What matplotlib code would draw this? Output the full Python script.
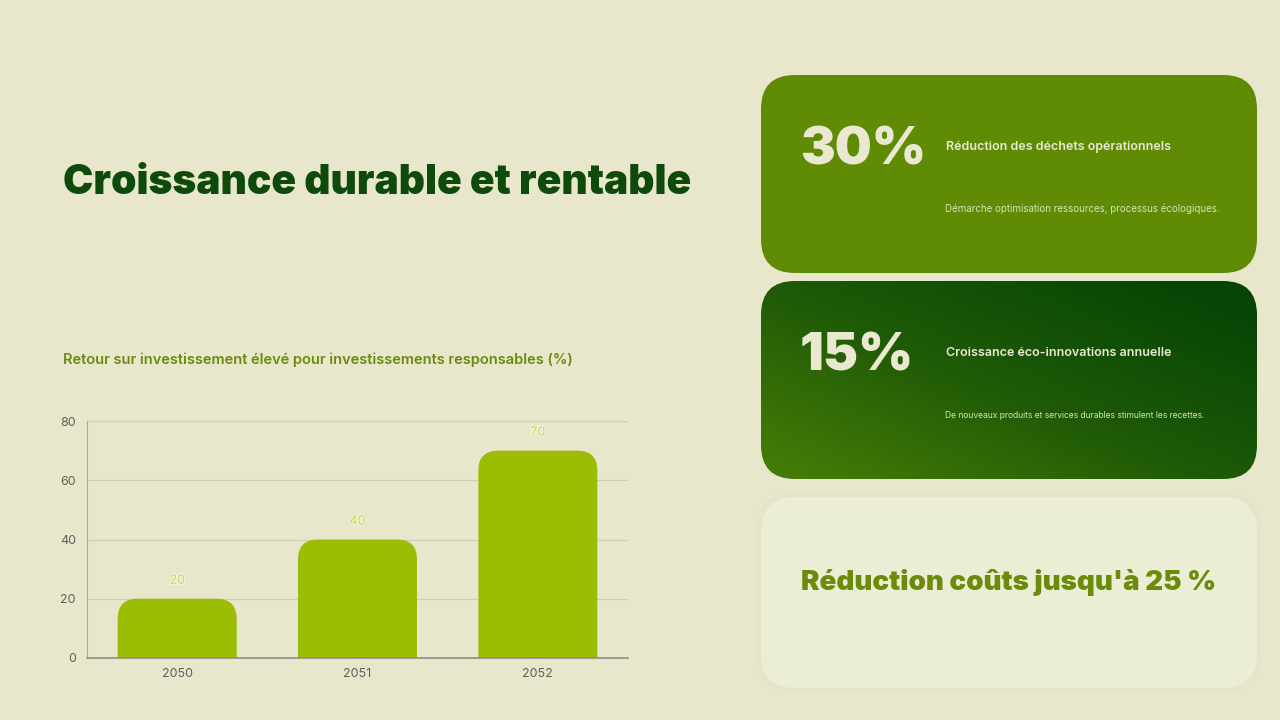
import numpy as np
import matplotlib
matplotlib.use("Agg")
import matplotlib.pyplot as plt
import matplotlib.patheffects as pe
from matplotlib.patches import FancyBboxPatch
from matplotlib.colors import LinearSegmentedColormap

# ---------------- data ----------------
years = ["2050", "2051", "2052"]
roi_values = [20, 40, 70]
y_ticks = [0, 20, 40, 60, 80]

title = "Croissance durable et rentable"
chart_title = "Retour sur investissement élevé pour investissements responsables (%)"
card_values = ["30%", "15%"]
card_heads = ["Réduction des déchets opérationnels", "Croissance éco-innovations annuelle"]
card_texts = ["Démarche optimisation ressources, processus écologiques.",
              "De nouveaux produits et services durables stimulent les recettes."]
highlight = "Réduction coûts jusqu'à 25 %"

# ---------------- style ----------------
BG = "#E8E6CB"
FONT = ["Inter", "DejaVu Sans"]
W, H = 1280, 720

fig = plt.figure(figsize=(W / 100, H / 100), dpi=100, facecolor=BG)

# overlay axes in pixel coordinates
ov = fig.add_axes([0, 0, 1, 1])
ov.set_xlim(0, W)
ov.set_ylim(H, 0)
ov.axis("off")
ov.set_facecolor("none")

ov.text(63, 183, title, fontsize=29.3, fontweight="black", color="#0E4A0A",
        family=FONT, va="center", ha="left")
ov.text(63, 360, chart_title, fontsize=10.5, fontweight="semibold", color="#6A8A0E",
        family=FONT, va="center", ha="left")

# card 1
c1 = FancyBboxPatch((761, 75), 496, 198, boxstyle="round,pad=0,rounding_size=34",
                    fc="#5F8B05", ec="none", zorder=1)
ov.add_patch(c1)

# card 2 with gradient
c2 = FancyBboxPatch((761, 281), 496, 198, boxstyle="round,pad=0,rounding_size=34",
                    fc="none", ec="none", zorder=1)
ov.add_patch(c2)
gx, gy = np.meshgrid(np.linspace(0, 1, 200), np.linspace(0, 1, 100))
g = np.clip(((1 - gx) * 0.6 + gy * 0.55) - 0.1, 0, 1)
cmap = LinearSegmentedColormap.from_list("g", ["#074505", "#1E5A07", "#447B06"])
im = ov.imshow(g, extent=(761, 1257, 479, 281), cmap=cmap, aspect="auto",
               zorder=1, interpolation="bicubic")
im.set_clip_path(c2)
ov.set_xlim(0, W)
ov.set_ylim(H, 0)

# card 3 with soft shadow
for i, a in enumerate([0.04, 0.04, 0.04]):
    sh = FancyBboxPatch((761 - 2 - i * 2, 497 - 2 - i * 2), 496 + 4 + i * 4, 191 + 4 + i * 4,
                        boxstyle="round,pad=0,rounding_size=%d" % (36 + i * 2),
                        fc="#D8D6BC", ec="none", alpha=a, zorder=1)
    ov.add_patch(sh)
c3 = FancyBboxPatch((761, 497), 496, 191, boxstyle="round,pad=0,rounding_size=34",
                    fc="#EBEED5", ec="none", zorder=1)
ov.add_patch(c3)

LIGHT = "#EAE8D1"
val_sizes = [37.5, 38]
txt_sizes = [7.0, 6.1]
for i, (val, head, txt) in enumerate(zip(card_values, card_heads, card_texts)):
    y0 = 75 + i * 206
    ov.text(800, y0 + 76, val, fontsize=val_sizes[i], fontweight="black", color=LIGHT,
            family=FONT, va="center", ha="left", zorder=3)
    ov.text(946, y0 + 72, head, fontsize=9, fontweight="semibold", color=LIGHT,
            family=FONT, va="center", ha="left", zorder=3)
    ov.text(945, y0 + 134, txt, fontsize=txt_sizes[i], color="#D8E2B8",
            family=FONT, va="center", ha="left", zorder=3)

ov.text(1009, 583, highlight, fontsize=20, fontweight="black", color="#6A8C0A",
        family=FONT, va="center", ha="center", zorder=3)

# ---------------- bar chart ----------------
left_px, right_px, top_px, bot_px = 87, 628, 421, 658
ax = fig.add_axes([left_px / W, 1 - bot_px / H, (right_px - left_px) / W, (bot_px - top_px) / H])
ax.set_facecolor("none")
x = np.arange(len(years))
ax.set_xlim(-0.5, len(years) - 0.5)
ax.set_ylim(0, 80)

bars = ax.bar(x, roi_values, width=0.66, color="#9BBE05")
ax_w_px = right_px - left_px
ax_h_px = bot_px - top_px
xu_per_px = (len(years)) / ax_w_px
yu_per_px = 80 / ax_h_px
r_px = 20
for b in bars:
    b.set_visible(False)
    bx, bw, bh = b.get_x(), b.get_width(), b.get_height()
    p = FancyBboxPatch((bx, -10), bw, bh + 10,
                       boxstyle="round,pad=0,rounding_size=%f" % (r_px * xu_per_px),
                       mutation_aspect=yu_per_px / xu_per_px,
                       fc="#9BBE05", ec="none", zorder=2)
    p.set_clip_path(ax.patch)
    ax.add_patch(p)
    t = ax.text(bx + bw / 2, bh + 18 * yu_per_px, str(bh if bh % 1 else int(bh)),
                ha="center", va="center", fontsize=9, color="#C2DA4E", family=FONT, zorder=3)
    t.set_path_effects([pe.withStroke(linewidth=1.6, foreground="#F4F4E2")])

ax.set_yticks(y_ticks)
ax.set_xticks(x, years)
ax.grid(axis="y", color="#CFCDB6", linewidth=0.9)
ax.set_axisbelow(True)
for s in ["top", "right"]:
    ax.spines[s].set_visible(False)
ax.spines["left"].set_color("#A9A89A")
ax.spines["bottom"].set_color("#8E8E86")
ax.spines["bottom"].set_linewidth(1.2)
ax.tick_params(length=0, labelsize=9, colors="#5F6158", pad=8)
ax.tick_params(axis="x", pad=7)
for lab in ax.get_xticklabels() + ax.get_yticklabels():
    lab.set_family(FONT)
    lab.set_color("#5F6158")

fig.savefig("out.png", dpi=100, facecolor=BG)
